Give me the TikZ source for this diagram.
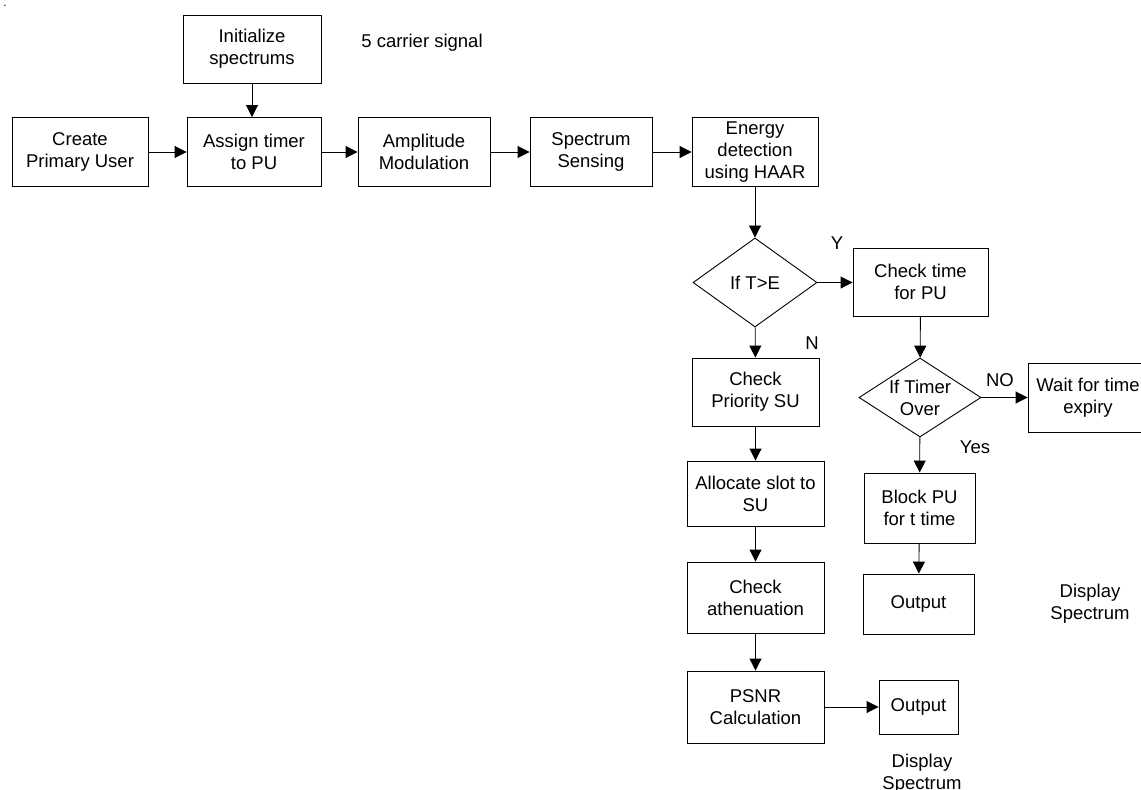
\documentclass[tikz,border=0pt]{standalone}
\usepackage{fontspec}
\setmainfont{Liberation Sans}
\usetikzlibrary{arrows.meta,shapes.geometric}
\begin{document}
\begin{tikzpicture}[x=1pt,y=-1pt,
  every node/.style={font=\fontsize{18.5}{22}\selectfont, inner sep=0pt, align=center},
  blk/.style={draw, line width=0.9pt, rectangle},
  diam/.style={draw, line width=0.9pt, shape=diamond, inner sep=0pt},
  arr/.style={line width=0.9pt, -{Triangle[length=12pt,width=12pt]}},
  lbl/.style={}]
\useasboundingbox (0,0) rectangle (1141,790);
\node[anchor=base, font=\fontsize{12}{14}\selectfont] (dot) at (5,6) {.};
% top row
\node[blk, minimum width=138pt, minimum height=68pt] (init) at (252,49) {Initialize\\spectrums};
\node[lbl] (carrier) at (422,43) {5 carrier signal};
\node[blk, minimum width=136pt, minimum height=69pt] (create) at (80,152) {Create\\Primary User};
\node[blk, minimum width=134pt, minimum height=69pt] (assign) at (254,152) {Assign timer\\to PU};
\node[blk, minimum width=132pt, minimum height=69pt] (amp) at (424,152) {Amplitude\\Modulation};
\node[blk, minimum width=122pt, minimum height=69pt] (sens) at (591,152) {Spectrum\\Sensing};
\node[blk, minimum width=126pt, minimum height=69pt] (energy) at (755,152) {Energy\\detection\\using HAAR};
% decision 1
\node[diam, minimum width=124pt, minimum height=89pt] (d1) at (755,282.5) {};
\node (d1t) at (d1) {If T>E};
\node[blk, minimum width=135pt, minimum height=68pt] (chk) at (920.5,282) {Check time\\for PU};
\node[lbl] (ylab) at (837,243) {Y};
\node[lbl] (nlab) at (812,343) {N};
% left column
\node[blk, minimum width=127pt, minimum height=68pt] (prio) at (755.5,392) {Check\\Priority SU};
\node[blk, minimum width=137pt, minimum height=65pt] (alloc) at (755.5,493.5) {Allocate slot to\\SU};
\node[blk, minimum width=137pt, minimum height=71pt] (atten) at (755.5,597.5) {Check\\athenuation};
\node[blk, minimum width=137pt, minimum height=72pt] (psnr) at (755.5,707) {PSNR\\Calculation};
\node[blk, minimum width=79pt, minimum height=54pt] (out2) at (918.5,707) {Output};
\node[lbl] (disp2) at (922,774) {Display\\Spectrum};
% right column
\node[diam, minimum width=122pt, minimum height=79pt] (d2) at (920,397.5) {};
\node (d2t) at (d2) {If Timer\\Over};
\node[blk, minimum width=120pt, minimum height=69pt] (wait) at (1088,397.5) {Wait for time\\expiry};
\node[lbl] (nolab) at (1000,380) {NO};
\node[lbl] (yeslab) at (975,447) {Yes};
\node[blk, minimum width=111pt, minimum height=70pt] (block) at (919.5,508) {Block PU\\for t time};
\node[blk, minimum width=111pt, minimum height=60pt] (out1) at (918.5,604) {Output};
\node[lbl] (disp1) at (1090,604) {Display\\Spectrum};
% connectors
\draw[arr] (init.south) -- (init.south |- assign.north);
\draw[arr] (create) -- (assign);
\draw[arr] (assign) -- (amp);
\draw[arr] (amp) -- (sens);
\draw[arr] (sens) -- (energy);
\draw[arr] (energy) -- (d1);
\draw[arr] (d1.east) -- (chk.west |- d1.east);
\draw[arr] (d1) -- (prio);
\draw[arr] (chk) -- (d2);
\draw[arr] (d2.east) -- (wait.west |- d2.east);
\draw[arr] (d2) -- (block);
\draw[arr] (block) -- (out1);
\draw[arr] (prio) -- (alloc);
\draw[arr] (alloc) -- (atten);
\draw[arr] (atten) -- (psnr);
\draw[arr] (psnr) -- (out2);
\end{tikzpicture}
\end{document}
